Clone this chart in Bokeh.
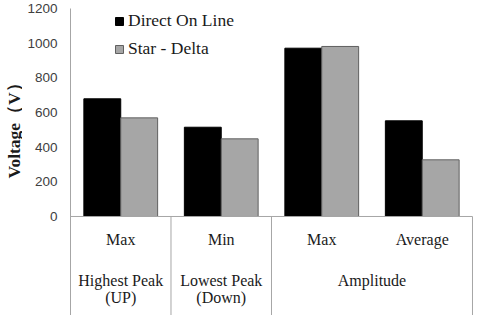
from math import pi
from bokeh.plotting import figure
from bokeh.layouts import row
from bokeh.models import Range1d, FixedTicker, Legend, LegendItem, ColumnDataSource
from bokeh.core.properties import value
from bokeh.embed import file_html
from bokeh.resources import INLINE

# ---- data ----
sub_labels = ["Max", "Min", "Max", "Average"]
group_labels = ["Highest Peak\n(UP)", "Lowest Peak\n(Down)", "Amplitude"]
group_spans = [1, 1, 2]
series_names = ["Direct On Line", "Star - Delta"]
dol_values = [679, 515, 971, 552]
sd_values = [569, 448, 981, 327]
y_ticks = [0, 200, 400, 600, 800, 1000, 1200]
y_label = "Voltage（V）"

SERIF = "Liberation Serif"
SANS = "Liberation Sans"
GRID = "#a6a6a6"
TXT = "#1a1a1a"
n = len(sub_labels)
XMAX = n + 0.01
YMIN = -571.2   # extends frame below zero to hold the category labels

# ---- left strip holding the rotated axis title ----
pl = figure(width=22, height=315, output_backend="svg", toolbar_location=None,
            x_range=Range1d(0, 22), y_range=Range1d(0, 315),
            x_axis_location=None, y_axis_location=None,
            min_border_left=0, min_border_right=0, min_border_top=0, min_border_bottom=0)
pl.outline_line_color = None
pl.grid.visible = False
pl.text(x=[13], y=[194], text=[y_label], angle=pi / 2, text_align="center",
        text_baseline="middle", text_font=value(SERIF), text_font_size="17.5px",
        text_font_style="bold", text_color=TXT)

# ---- main plot ----
p = figure(width=458, height=315, output_backend="svg", toolbar_location=None,
           x_range=Range1d(0, XMAX), y_range=Range1d(YMIN, 1200),
           x_axis_location=None, min_border_left=48, min_border_right=7,
           min_border_top=8, min_border_bottom=0)
p.outline_line_color = None
p.grid.visible = False

ax = p.yaxis[0]
ax.ticker = FixedTicker(ticks=y_ticks)
ax.major_tick_line_color = None
ax.minor_tick_line_color = None
ax.major_tick_out = 0
ax.major_tick_in = 0
ax.major_label_standoff = 13
ax.axis_line_color = GRID
ax.major_label_text_font = SANS
ax.major_label_text_font_size = "13.5px"
ax.major_label_text_color = "#404040"

centers = [i + 0.5 for i in range(n)]
bw = 0.367
src = ColumnDataSource(dict(x1=[c - bw / 2 for c in centers],
                            x2=[c + bw / 2 for c in centers],
                            dol=dol_values, sd=sd_values))
r1 = p.vbar(x="x1", top="dol", width=bw, source=src, fill_color="black", line_color="black")
r2 = p.vbar(x="x2", top="sd", width=bw, source=src, fill_color="#a6a6a6", line_color="#606060")

# baseline and category separators
p.segment(x0=[0], y0=[0], x1=[n], y1=[0], line_color=GRID, line_width=1)
bounds = [0]
for s in group_spans:
    bounds.append(bounds[-1] + s)
p.segment(x0=bounds[1:], y0=[0] * len(group_spans), x1=bounds[1:],
          y1=[YMIN] * len(group_spans), line_color=GRID, line_width=1)

p.text(x=centers, y=[0] * n, text=sub_labels, y_offset=23,
       text_align="center", text_baseline="middle",
       text_font=value(SERIF), text_font_size="16px", text_color=TXT)

gx, gy, gt, goff = [], [], [], []
for i, lab in enumerate(group_labels):
    c = (bounds[i] + bounds[i + 1]) / 2
    for j, line in enumerate(lab.split("\n")):
        gx.append(c)
        gy.append(0)
        gt.append(line)
        goff.append(64 + 17 * j)
p.text(x=gx, y=gy, text=gt, y_offset=goff, text_align="center", text_baseline="middle",
       text_font=value(SERIF), text_font_size="16px", text_color=TXT)

legend = Legend(items=[LegendItem(label=series_names[0], renderers=[r1]),
                       LegendItem(label=series_names[1], renderers=[r2])],
                location=(44, 256), padding=0, margin=0, spacing=7,
                glyph_width=10, glyph_height=10, label_height=20, label_standoff=4,
                label_text_font=SERIF, label_text_font_size="17.5px",
                label_text_color=TXT,
                border_line_color=None, background_fill_alpha=0)
p.add_layout(legend, "center")

layout = row(pl, p)
open("out.html", "w").write(file_html(layout, INLINE))
